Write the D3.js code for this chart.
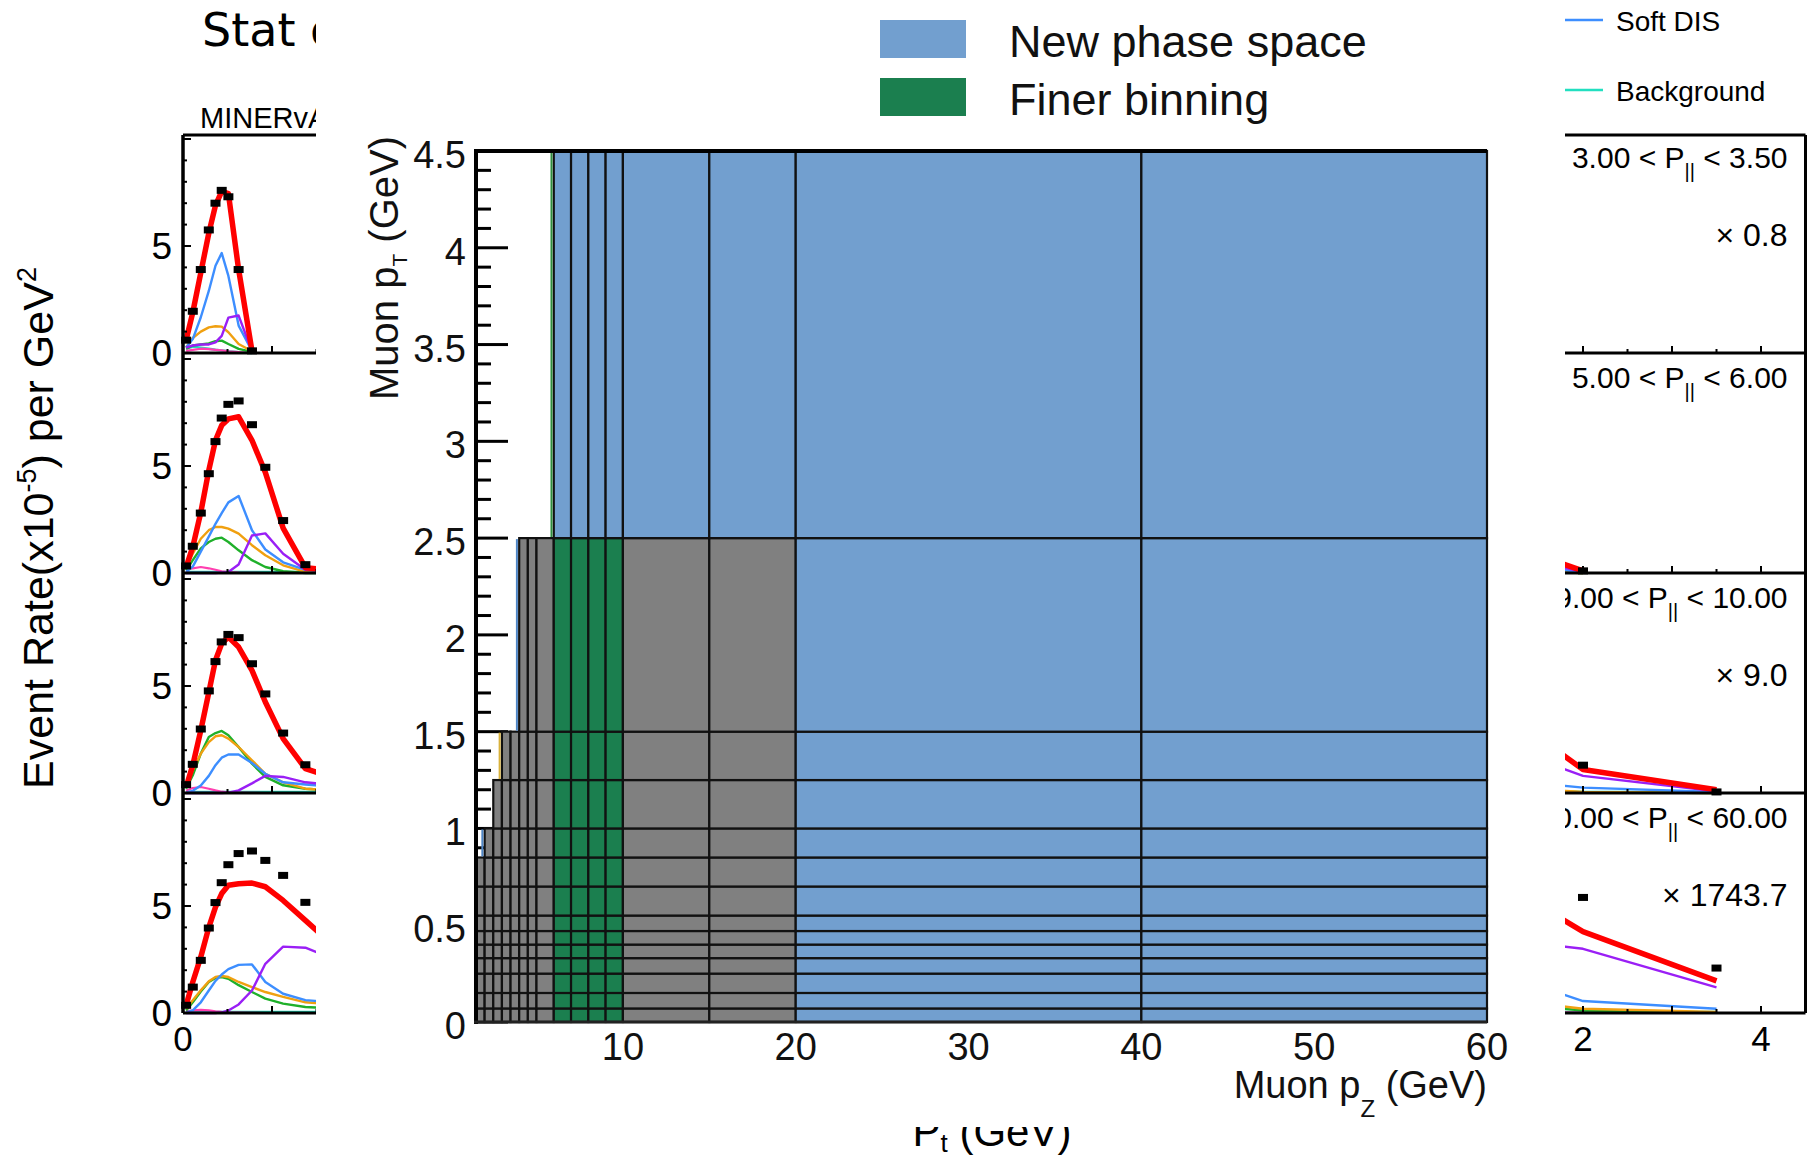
<!DOCTYPE html>
<html>
<head>
<meta charset="utf-8">
<script src="https://cdn.jsdelivr.net/npm/d3@7"></script>
<style>
  html, body { margin: 0; padding: 0; background: #fff; }
  svg { display: block; font-family: "Liberation Sans", Arial, sans-serif; }
</style>
</head>
<body>
<svg id="chart" width="1819" height="1155"></svg>
<script>
// ================= event-rate panels (background figure) =================
// pT bin centres (GeV) at which every component is evaluated
const ptCentres = [0.035, 0.11, 0.2, 0.29, 0.365, 0.435, 0.51, 0.625, 0.775, 0.925, 1.125, 1.375, 2.0, 3.5];
// right-column panels: bin centres from 1.375 GeV upward
const rightCentres = [1.375, 2.0, 3.5];

// left column, one list per row
const leftData = [
  [0.6, 1.95, 3.9, 5.75, 7.0, 7.6, 7.3, 3.9, 0.1],
  [0.33, 1.25, 2.8, 4.64, 6.14, 7.24, 7.88, 8.04, 6.93, 4.94, 2.45, 0.39],
  [0.39, 1.34, 2.99, 4.77, 6.14, 7.06, 7.41, 7.26, 6.04, 4.63, 2.8, 1.32],
  [0.36, 1.21, 2.46, 3.97, 5.16, 6.09, 6.93, 7.45, 7.57, 7.13, 6.43, 5.17]
];
const leftTotal = [
  [0.6, 1.9, 3.75, 5.6, 6.9, 7.55, 7.45, 3.9, 0.1],
  [0.28, 1.22, 2.83, 4.8, 6.2, 6.9, 7.2, 7.3, 6.2, 4.7, 2.1, 0.25, 0.0],
  [0.28, 1.3, 2.93, 4.7, 6.2, 6.98, 7.29, 6.82, 5.73, 4.25, 2.54, 1.14, 0.3],
  [0.36, 1.45, 2.62, 4.0, 4.95, 5.58, 5.97, 6.04, 6.07, 5.9, 5.26, 4.33, 2.0]
];
const leftSoftDIS = [
  [0.26, 0.65, 1.67, 2.9, 4.08, 4.67, 3.6, 1.28, 0.1],
  [0.05, 0.3, 1.0, 1.7, 2.3, 2.8, 3.3, 3.6, 2.0, 1.1, 0.5, 0.15, 0.02],
  [0.03, 0.1, 0.35, 0.8, 1.3, 1.65, 1.8, 1.8, 1.4, 0.9, 0.5, 0.4, 0.2],
  [0.02, 0.12, 0.5, 1.05, 1.5, 1.8, 2.05, 2.25, 2.27, 1.45, 0.9, 0.6, 0.4]
];
const leftOrange = [
  [0.26, 0.7, 1.0, 1.2, 1.25, 1.23, 0.97, 0.42, 0.08],
  [0.28, 0.9, 1.6, 2.0, 2.15, 2.15, 2.07, 1.84, 1.3, 0.83, 0.36, 0.05, 0.0],
  [0.36, 1.06, 1.84, 2.38, 2.65, 2.7, 2.54, 2.15, 1.53, 0.9, 0.5, 0.2, 0.05],
  [0.2, 0.6, 1.06, 1.48, 1.68, 1.73, 1.68, 1.45, 1.21, 0.98, 0.75, 0.5, 0.3]
];
const leftGreen = [
  [0.2, 0.35, 0.4, 0.45, 0.55, 0.58, 0.42, 0.19, 0.05],
  [0.12, 0.6, 1.15, 1.45, 1.6, 1.65, 1.45, 1.06, 0.6, 0.28, 0.08, 0.0, 0.0],
  [0.2, 0.83, 1.84, 2.62, 2.8, 2.9, 2.7, 2.15, 1.37, 0.75, 0.36, 0.2, 0.05],
  [0.12, 0.5, 1.0, 1.45, 1.64, 1.68, 1.6, 1.3, 0.98, 0.67, 0.44, 0.28, 0.15]
];
const leftPurple = [
  [0.25, 0.35, 0.4, 0.4, 0.5, 0.8, 1.65, 1.75, 0.08],
  [0, 0, 0, 0, 0, 0.02, 0.05, 0.4, 1.75, 1.85, 0.9, 0.15, 0.02],
  [0, 0, 0, 0, 0, 0, 0.02, 0.12, 0.45, 0.8, 0.75, 0.5, 0.25],
  [0, 0, 0, 0, 0, 0.03, 0.12, 0.4, 1.05, 2.3, 3.1, 3.05, 2.0]
];
const leftPink = [
  [0.1, 0.15, 0.2, 0.18, 0.15, 0.12, 0.08, 0.04, 0.0],
  [0.15, 0.22, 0.28, 0.22, 0.15, 0.08, 0.04, 0.02, 0.01, 0, 0, 0, 0],
  [0.12, 0.23, 0.28, 0.2, 0.12, 0.06, 0.03, 0.02, 0.01, 0, 0, 0, 0],
  [0.08, 0.12, 0.15, 0.12, 0.08, 0.05, 0.03, 0.02, 0.01, 0, 0, 0, 0]
];
const leftBackground = [
  [0.2, 0.3, 0.25, 0.2, 0.15, 0.12, 0.08, 0.04, 0.0],
  [0.05, 0.05, 0.05, 0.05, 0.05, 0.05, 0.05, 0.05, 0.05, 0.05, 0.05, 0.05, 0.05],
  [0.05, 0.05, 0.05, 0.05, 0.05, 0.05, 0.05, 0.05, 0.05, 0.05, 0.05, 0.05, 0.05],
  [0.05, 0.05, 0.05, 0.05, 0.05, 0.05, 0.05, 0.05, 0.05, 0.05, 0.05, 0.05, 0.05]
];

// right column, one list per row (P|| slices 3-3.5, 5-6, 9-10, 40-60)
const rightLabels = [["3.00", "3.50"], ["5.00", "6.00"], ["9.00", "10.00"], ["40.00", "60.00"]];
const rightFactors = ["0.8", "", "9.0", "1743.7"];
const rightData = [[], [null, 0.1], [null, 1.3, 0.05], [null, 5.4, 2.1]];
const rightTotal = [[], [1.0, 0.1], [2.98, 1.1, 0.15], [5.36, 3.8, 1.5]];
const rightSoftDIS = [[], [0.35, 0.03], [0.5, 0.25, 0.05], [1.43, 0.56, 0.2]];
const rightPurple = [[], [0.6, 0.05], [1.74, 0.8, 0.08], [3.3, 3.0, 1.2]];
const rightOrange = [[], [0.1, 0.0], [0.2, 0.05, 0.0], [0.5, 0.2, 0.05]];
const rightGreen = [[], [0.08, 0.0], [0.15, 0.04, 0.0], [0.35, 0.12, 0.03]];
const rightPink = [[], [0, 0], [0.02, 0, 0], [0.05, 0.02, 0.0]];
const rightBackground = [[], [0.05, 0.05], [0.05, 0.05, 0.05], [0.05, 0.05, 0.05]];

const componentLegend = ["Soft DIS", "Background"];
const leftXTickLabels = [0];
const rightXTickLabels = [2, 4];

// ================= binning map (foreground figure) =================
const pzEdges = [1.5, 2, 2.5, 3, 3.5, 4, 4.5, 5, 6, 7, 8, 9, 10, 15, 20, 40, 60];
const ptEdges = [0, 0.07, 0.15, 0.25, 0.33, 0.4, 0.47, 0.55, 0.7, 0.85, 1, 1.25, 1.5, 2.5, 4.5];
// lowest pz edge that is populated in each pT row
const rowFirstPz = [1.5, 1.5, 1.5, 1.5, 1.5, 1.5, 1.5, 1.5, 1.5, 2, 2.5, 3, 4, 6];
const finerPz = [6, 10];
const newSpaceMinPz = 20;
const newSpaceMinPt = 2.5;
const pzTickLabels = [10, 20, 30, 40, 50, 60];
const ptTickLabels = [0, 0.5, 1, 1.5, 2, 2.5, 3, 3.5, 4, 4.5];
const mapLegend = ["New phase space", "Finer binning"];

// ---------------------------------------------------------------------
const svg = d3.select("#chart");

const colours = {
  total: "#ff0000", softDIS: "#3d8eff", orange: "#f0a010", green: "#1fb02a",
  purple: "#9a1ff5", pink: "#ff3fb0", background: "#22dfc0",
  newSpace: "#729fcf", finer: "#1b7f4f", existing: "#808080"
};

// ---------- panel geometry ----------
const rowH = 220;
const rowTop = r => 133 + rowH * r;
const yRow = d3.scaleLinear().domain([0, 10.28]).range([rowH, 0]);
const xLeft = d3.scaleLinear().domain([0, 4.5]).range([183, 583.5]);
const xRight = d3.scaleLinear().domain([0, 4.5]).range([1405, 1805.5]);

const bg = svg.append("g");

function drawColumn(xs, xScale, rowIdx, series, dataVals) {
  const g = bg.append("g").attr("transform", `translate(0,${rowTop(rowIdx)})`);
  const line = d3.line().x(d => xScale(d[0])).y(d => yRow(d[1])).curve(d3.curveLinear);
  series.forEach(s => {
    if (!s.vals || !s.vals.length) return;
    const pts = s.vals.map((v, i) => [xs[i], v]);
    g.append("path").attr("d", line(pts)).attr("fill", "none")
      .attr("stroke", s.colour).attr("stroke-width", s.width)
      .attr("stroke-linejoin", "round").attr("stroke-linecap", "butt");
  });
  const pts = (dataVals || []).map((v, i) => [xs[i], v]).filter(d => d[1] !== null);
  g.selectAll("rect.pt").data(pts).enter().append("rect")
    .attr("x", d => xScale(d[0]) - 5).attr("y", d => yRow(d[1]) - 3.5)
    .attr("width", 10).attr("height", 7).attr("fill", "#000");
}

for (let r = 0; r < 4; r++) {
  drawColumn(ptCentres, xLeft, r, [
    { vals: leftBackground[r], colour: colours.background, width: 2.5 },
    { vals: leftPink[r], colour: colours.pink, width: 2.2 },
    { vals: leftGreen[r], colour: colours.green, width: 2.4 },
    { vals: leftOrange[r], colour: colours.orange, width: 2.4 },
    { vals: leftSoftDIS[r], colour: colours.softDIS, width: 2.4 },
    { vals: leftPurple[r], colour: colours.purple, width: 2.4 },
    { vals: leftTotal[r], colour: colours.total, width: 5.5 }
  ], leftData[r]);
  drawColumn(rightCentres, xRight, r, [
    { vals: rightBackground[r], colour: colours.background, width: 2.5 },
    { vals: rightPink[r], colour: colours.pink, width: 2.2 },
    { vals: rightGreen[r], colour: colours.green, width: 2.4 },
    { vals: rightOrange[r], colour: colours.orange, width: 2.4 },
    { vals: rightSoftDIS[r], colour: colours.softDIS, width: 2.4 },
    { vals: rightPurple[r], colour: colours.purple, width: 2.4 },
    { vals: rightTotal[r], colour: colours.total, width: 5.5 }
  ], rightData[r]);
}

// frames and ticks
[xLeft, xRight].forEach((xs, ci) => {
  const [x0, x1] = xs.range();
  bg.append("line").attr("x1", x0).attr("x2", x1).attr("y1", 135).attr("y2", 135)
    .attr("stroke", "#000").attr("stroke-width", 3);
  for (let r = 0; r < 4; r++) {
    const base = rowTop(r) + rowH;
    bg.append("line").attr("x1", x0).attr("x2", x1).attr("y1", base).attr("y2", base)
      .attr("stroke", "#000").attr("stroke-width", 3.2);
    d3.range(0.5, 4.5, 0.5).forEach(v => {
      const len = (v % 1 === 0) ? 7 : 4;
      bg.append("line").attr("x1", xs(v)).attr("x2", xs(v))
        .attr("y1", base).attr("y2", base - len)
        .attr("stroke", "#000").attr("stroke-width", 2);
    });
  }
  bg.append("line").attr("x1", x0).attr("x2", x0).attr("y1", 135).attr("y2", rowTop(4))
    .attr("stroke", "#000").attr("stroke-width", ci === 0 ? 3.5 : 3);
  bg.append("line").attr("x1", x1).attr("x2", x1).attr("y1", 135).attr("y2", rowTop(4))
    .attr("stroke", "#000").attr("stroke-width", 3);
  (ci === 0 ? leftXTickLabels : rightXTickLabels).forEach(v => {
    bg.append("text").attr("x", xs(v)).attr("y", 1051).attr("text-anchor", "middle")
      .attr("font-size", 35).attr("fill", "#000").text(v);
  });
});

// slice labels and scale factors of the right column
for (let r = 0; r < 4; r++) {
  const xe = xRight(4.5) - 18;
  const lab = rightLabels[r];
  const t = bg.append("text").attr("x", xe).attr("y", rowTop(r) + 35)
    .attr("text-anchor", "end").attr("font-size", 30).attr("fill", "#000");
  t.append("tspan").text(`${lab[0]} < P`);
  t.append("tspan").attr("font-size", 20).attr("dy", 10).text("||");
  t.append("tspan").attr("dy", -10).text(` < ${lab[1]}`);
  if (rightFactors[r]) {
    bg.append("text").attr("x", xe).attr("y", rowTop(r) + 113)
      .attr("text-anchor", "end").attr("font-size", 32).attr("fill", "#000")
      .text(`\u00d7 ${rightFactors[r]}`);
  }
}

// left axis: y ticks and labels per row
for (let r = 0; r < 4; r++) {
  const top = rowTop(r);
  d3.range(1, 11).forEach(v => {
    const len = (v % 5 === 0) ? 8 : 4;
    bg.append("line").attr("x1", 183).attr("x2", 183 + len)
      .attr("y1", top + yRow(v)).attr("y2", top + yRow(v))
      .attr("stroke", "#000").attr("stroke-width", 2);
  });
  [0, 5].forEach(v => {
    bg.append("text").attr("x", 172).attr("y", top + yRow(v) + 13)
      .attr("text-anchor", "end").attr("font-size", 37).attr("fill", "#000").text(v);
  });
}

// titles of the background figure
bg.append("text").attr("x", 202).attr("y", 46).attr("font-family", "DejaVu Sans")
  .attr("font-size", 46).attr("fill", "#000").text("Stat only");
bg.append("text").attr("x", 200).attr("y", 128).attr("font-size", 29).attr("fill", "#000")
  .text("MINERvA");

const yTitle = bg.append("text").attr("transform", "translate(53,528) rotate(-90)")
  .attr("text-anchor", "middle").attr("font-size", 43).attr("fill", "#000");
yTitle.append("tspan").text("Event Rate(x10");
yTitle.append("tspan").attr("font-size", 27).attr("dy", -17).text("-5");
yTitle.append("tspan").attr("dy", 17).text(") per GeV");
yTitle.append("tspan").attr("font-size", 27).attr("dy", -17).text("2");

const xTitle = bg.append("text").attr("x", 992).attr("y", 1146)
  .attr("text-anchor", "middle").attr("font-size", 42).attr("fill", "#000");
xTitle.append("tspan").text("P");
xTitle.append("tspan").attr("font-size", 26).attr("dy", 6).text("t");
xTitle.append("tspan").attr("dy", -6).text(" (GeV)");

// component legend (top right)
componentLegend.forEach((name, i) => {
  const y = 20 + 70 * i;
  const c = i === 0 ? colours.softDIS : colours.background;
  bg.append("line").attr("x1", 1550).attr("x2", 1603).attr("y1", y).attr("y2", y)
    .attr("stroke", c).attr("stroke-width", 2.5);
  bg.append("text").attr("x", 1616).attr("y", y + 11).attr("font-size", 28)
    .attr("fill", "#000").text(name);
});

// ================= binning map drawn on a white panel =================
const fg = svg.append("g");
fg.append("rect").attr("x", 316).attr("y", 0).attr("width", 1565 - 316).attr("height", 1127)
  .attr("fill", "#fff");

const x = d3.scaleLinear().domain([1.5, 60]).range([476, 1487]);
const y = d3.scaleLinear().domain([0, 4.5]).range([1022, 151]);

// y ticks (drawn first, so populated cells hide them)
d3.range(0, 45).forEach(k => {
  const v = k / 10;
  const major = k % 5 === 0;
  fg.append("line").attr("x1", x(1.5)).attr("x2", x(1.5) + (major ? 32 : 15))
    .attr("y1", y(v)).attr("y2", y(v)).attr("stroke", "#000").attr("stroke-width", 3);
});

// cells
const cells = [];
for (let i = 0; i < ptEdges.length - 1; i++) {
  for (let j = 0; j < pzEdges.length - 1; j++) {
    if (pzEdges[j] < rowFirstPz[i] - 1e-9) continue;
    const c = { pz0: pzEdges[j], pz1: pzEdges[j + 1], pt0: ptEdges[i], pt1: ptEdges[i + 1] };
    if (c.pz0 >= newSpaceMinPz || c.pt0 >= newSpaceMinPt) c.kind = "newSpace";
    else if (c.pz0 >= finerPz[0] && c.pz1 <= finerPz[1]) c.kind = "finer";
    else c.kind = "existing";
    cells.push(c);
  }
}
fg.selectAll("rect.cell").data(cells).enter().append("rect")
  .attr("x", d => x(d.pz0)).attr("y", d => y(d.pt1))
  .attr("width", d => x(d.pz1) - x(d.pz0)).attr("height", d => y(d.pt0) - y(d.pt1))
  .attr("fill", d => colours[d.kind]).attr("stroke", "#111").attr("stroke-width", 2.2);

// thin tinted edges on the stepped left boundary
const edgeTints = [[9, "#4f86c6"], [11, "#d9b23c"], [12, "#4f86c6"], [13, "#2f8f3f"]];
edgeTints.forEach(([row, c]) => {
  const xe = x(rowFirstPz[row]) - 2.3;
  fg.append("line").attr("x1", xe).attr("x2", xe)
    .attr("y1", y(ptEdges[row + 1]) + 1).attr("y2", y(ptEdges[row]) - 1)
    .attr("stroke", c).attr("stroke-width", 2);
});

// axis frame
fg.append("line").attr("x1", x(1.5)).attr("x2", x(1.5)).attr("y1", y(4.5) - 2).attr("y2", y(0) + 2)
  .attr("stroke", "#000").attr("stroke-width", 4);
fg.append("line").attr("x1", x(1.5) - 2).attr("x2", x(60)).attr("y1", y(4.5)).attr("y2", y(4.5))
  .attr("stroke", "#000").attr("stroke-width", 4);
fg.append("line").attr("x1", x(1.5) - 2).attr("x2", x(60)).attr("y1", y(0)).attr("y2", y(0))
  .attr("stroke", "#222").attr("stroke-width", 3);

// tick labels
ptTickLabels.forEach(v => {
  fg.append("text").attr("x", 466).attr("y", y(v) + 17).attr("text-anchor", "end")
    .attr("font-size", 38).attr("fill", "#111").text(v);
});
pzTickLabels.forEach(v => {
  fg.append("text").attr("x", x(v)).attr("y", 1060).attr("text-anchor", "middle")
    .attr("font-size", 38).attr("fill", "#111").text(v);
});

// axis titles
const pzTitle = fg.append("text").attr("x", x(60)).attr("y", 1098).attr("text-anchor", "end")
  .attr("font-size", 38).attr("fill", "#111");
pzTitle.append("tspan").text("Muon p");
pzTitle.append("tspan").attr("font-size", 24).attr("dy", 19).text("Z");
pzTitle.append("tspan").attr("dy", -19).text(" (GeV)");

const ptTitle = fg.append("text").attr("transform", "translate(398,268) rotate(-90)")
  .attr("text-anchor", "middle").attr("font-size", 40).attr("fill", "#111");
ptTitle.append("tspan").text("Muon p");
ptTitle.append("tspan").attr("font-size", 21).attr("dy", 9).text("T");
ptTitle.append("tspan").attr("dy", -9).text(" (GeV)");

// legend of the map
mapLegend.forEach((name, i) => {
  const top = 20 + 58 * i;
  fg.append("rect").attr("x", 880).attr("y", top).attr("width", 86).attr("height", 38)
    .attr("fill", i === 0 ? colours.newSpace : colours.finer);
  fg.append("text").attr("x", 1009).attr("y", top + 37).attr("font-size", 45)
    .attr("fill", "#111").text(name);
});
</script>
</body>
</html>
